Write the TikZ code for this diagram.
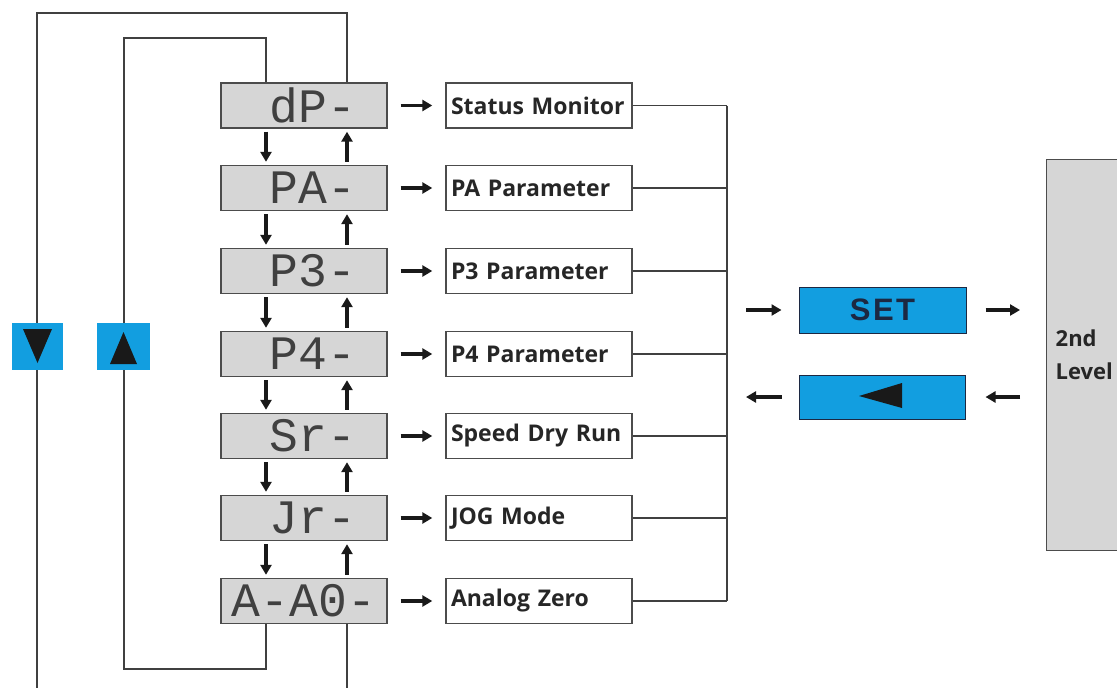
\documentclass[tikz,border=0pt]{standalone}
\usepackage{fontspec}
\setmainfont{Open Sans}
\newfontfamily\segfont{Liberation Mono}
\newfontfamily\keyfont[LetterSpace=8]{Liberation Sans}
\usetikzlibrary{arrows.meta}
\definecolor{keyblue}{RGB}{18,158,224}
\definecolor{keyink}{RGB}{28,40,66}

\begin{document}
\begin{tikzpicture} [x=1pt, y=-1pt, line width=1.4pt, draw=black!75,
  disp/.style={draw=black!70, fill=black!16, minimum width=166pt, minimum height=45pt, inner sep=0pt, text=black!75, font=\segfont\fontsize{48}{48}\selectfont},
  lbl/.style={draw=black!70, fill=white, text width=176pt, inner xsep=5pt, minimum height=45pt, align=left, text=black!85, font=\bfseries\fontsize{23}{23}\selectfont},
  key/.style={fill=keyblue, draw=none, minimum width=51pt, minimum height=47pt, inner sep=0pt},
  arr/.style={line width=3.6pt, draw=black!90, -{Triangle[length=10pt,width=11pt]}}]
\clip (0,0) rectangle (1117,688);
\fill[white] (0,0) rectangle (1117,688);

\coordinate (dn) at (266,0);
\coordinate (up) at (347,0);
\coordinate (bus) at (727,0);

\node[disp] (m1) at (304,105.5){\hspace*{18pt}dP-};
\node[disp] (m2) at (304,188){\hspace*{18pt}PA-};
\node[disp] (m3) at (304,271){\hspace*{18pt}P3-};
\node[disp] (m4) at (304,354){\hspace*{18pt}P4-};
\node[disp] (m5) at (304,436){\hspace*{18pt}Sr-};
\node[disp] (m6) at (304,518){\hspace*{18pt}Jr-};
\node[disp] (m7) at (304,601){A-A0-};

\node[lbl] (p1) at (539,105.5){Status Monitor};
\node[lbl] (p2) at (539,188){PA Parameter};
\node[lbl] (p3) at (539,271){P3 Parameter};
\node[lbl] (p4) at (539,354){P4 Parameter};
\node[lbl] (p5) at (539,436){Speed Dry Run};
\node[lbl] (p6) at (539,518){JOG Mode};
\node[lbl] (p7) at (539,601){Analog Zero};

\foreach \i in {1,...,7}
\draw[arr,shorten <=13pt,shorten >=13pt] (m\i) -- (p\i);

\foreach \from/\to in {m1/m2,m2/m3,m3/m4,m4/m5,m5/m6,m6/m7}
{\draw[arr,shorten <=3pt,shorten >=3pt] (\from.south -| dn) -- (\to.north -| dn);
 \draw[arr,shorten <=3pt,shorten >=3pt] (\to.north -| up) -- (\from.south -| up);}

\foreach \i in {1,...,7}
\draw (p\i.east) -- (p\i.east -| bus);
\draw (p1.east -| bus) -- (p7.east -| bus);

% loops back round the list
\draw (m1.north -| dn) |- (124,38) -- (124,669) -| (m7.south -| dn);
\draw (m1.north -| up) |- (37,13) -- (37,700);
\draw (m7.south -| up) -- ++(0,80);

\node[key] (k1) at (37,346){};
\node[key,minimum width=53pt] (k2) at (123.5,346){};
\fill[black!90] (k1.center) ++(-14,-17) -- ++(29,0) -- ++(-14.5,34) -- cycle;
\fill[black!90] (k2.center) ++(-13.5,18) -- ++(27,0) -- ++(-13.5,-32) -- cycle;

\node[key,draw=keyink,line width=1pt,minimum width=167pt,minimum height=46pt,text=keyink,font=\keyfont\bfseries\fontsize{31}{31}\selectfont] (set) at (882.5,310){SET};
\node[key,draw=keyink,line width=1pt,minimum width=166pt,minimum height=44pt] (back) at (882,397){};
\fill[black!90] (back.center) ++(-23,-1) -- ++(43,-13) -- ++(0,25) -- cycle;

\node[draw=black!70, fill=black!16, anchor=north west, minimum width=90pt, minimum height=391pt, text width=80pt, inner xsep=9pt, align=left, text=black!85, font=\bfseries\fontsize{22}{33}\selectfont] (lvl) at (1046,159){2nd\\Level};

\draw[arr,shorten <=19pt,shorten >=17pt] (set.west -| bus) -- (set.west);
\draw[arr,shorten <=19pt,shorten >=26pt] (set.east) -- (set.east -| lvl.west);
\draw[arr,shorten <=26pt,shorten >=20pt] (back.east -| lvl.west) -- (back.east);
\draw[arr,shorten <=17pt,shorten >=19pt] (back.west) -- (back.west -| bus);

\end{tikzpicture}
\end{document}
